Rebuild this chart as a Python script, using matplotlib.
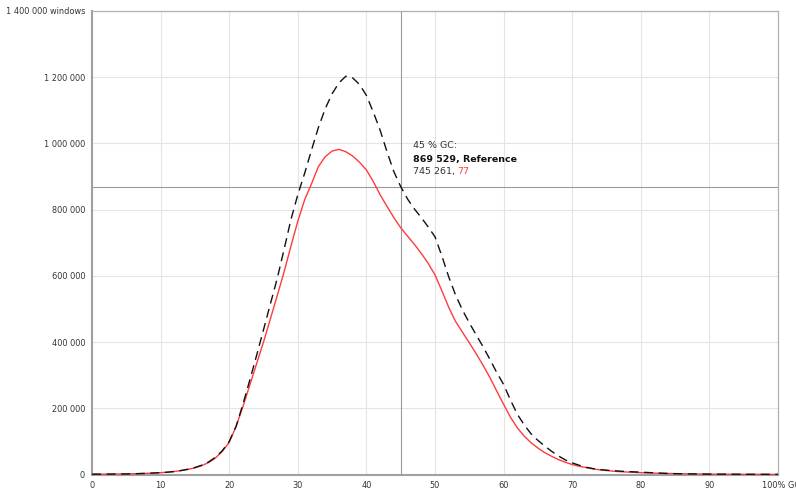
import matplotlib
matplotlib.use("Agg")
import matplotlib.pyplot as plt
from matplotlib.ticker import FuncFormatter, MultipleLocator

# GC content (percent) of the windows
gc_percent = list(range(0, 101))

# Number of windows per GC percent: reference genome
reference = [
    1000, 1000, 1200, 1300, 1500, 1800, 2200, 2800, 3500, 4500,
    5500, 7000, 9000, 12000, 16000, 21000, 28000, 38000, 52000, 72000,
    100000, 145000, 212000, 285000, 360000, 437000, 515000, 592000, 680000, 770000,
    845000, 910000, 980000, 1048000, 1105000, 1150000, 1183000, 1203000, 1198000, 1178000,
    1145000, 1095000, 1040000, 975000, 915000, 869529, 832000, 802000, 776000, 748000,
    718000, 660000, 597000, 542000, 497000, 458000, 422000, 386000, 348000, 308000,
    272000, 225000, 182000, 150000, 123000, 103000, 86000, 70000, 56000, 44000,
    35000, 28000, 22000, 18000, 15000, 13000, 11500, 10000, 9000, 8000,
    7000, 6000, 5000, 4000, 3000, 2500, 2200, 1900, 1600, 1400,
    1200, 1000, 900, 800, 700, 600, 500, 450, 400, 350,
    300,
]

# Number of windows per GC percent: sample 77
sample_77 = [
    1000, 1000, 1200, 1300, 1500, 1800, 2200, 2800, 3500, 4500,
    5500, 7000, 9000, 12000, 15500, 20000, 27000, 36000, 50000, 70000,
    97000, 145000, 205000, 270000, 335000, 400000, 470000, 540000, 612000, 690000,
    765000, 830000, 878000, 930000, 960000, 977000, 982000, 975000, 962000, 943000,
    920000, 885000, 845000, 810000, 776000, 745261, 720000, 695000, 668000, 638000,
    603000, 555000, 505000, 462000, 430000, 398000, 365000, 330000, 293000, 252000,
    212000, 173000, 141000, 116000, 96000, 80000, 66000, 55000, 45000, 37000,
    30000, 25000, 21000, 17000, 14000, 12000, 10000, 8500, 7500, 6500,
    5500, 4800, 4200, 3600, 3100, 2700, 2300, 2000, 1700, 1500,
    1300, 1100, 1000, 900, 800, 700, 600, 500, 450, 400,
    350,
]

x_unit_label = "100% GC"
y_unit_label = "windows"

cursor_gc = 45
cursor_ref = 869529
cursor_sample = 745261
sample_name = "77"
reference_name = "Reference"

text_color = "#333333"
red = "#ff3b3b"

plt.rcParams["font.family"] = ["DejaVu Sans"]

fig = plt.figure(figsize=(7.96, 4.90), dpi=100)
ax = fig.add_axes([92 / 796, 15.5 / 490, 686 / 796, 463.5 / 490])

ax.plot(gc_percent, sample_77, color=red, lw=1.0, zorder=3)
ax.plot(gc_percent, reference, color="#111111", lw=1.0, dashes=(6.5, 4), zorder=4)

ax.set_xlim(0, 100)
ax.set_ylim(0, 1400000)

ax.xaxis.set_major_locator(MultipleLocator(10))
ax.yaxis.set_major_locator(MultipleLocator(200000))


def fmt_y(v, pos):
    s = f"{int(round(v)):,}".replace(",", " ")
    if v >= 1400000:
        s += " " + y_unit_label
    return s


def fmt_x(v, pos):
    if round(v) >= 100:
        return ""
    return f"{int(round(v))}"


ax.yaxis.set_major_formatter(FuncFormatter(fmt_y))
ax.xaxis.set_major_formatter(FuncFormatter(fmt_x))
ax.tick_params(axis="both", length=0, labelsize=5.9, colors=text_color, pad=5)

# Last x label carries the unit and runs past the right edge of the plot
ax.annotate(x_unit_label, xy=(100, 0), xycoords="data", xytext=(-11.5, -5),
            textcoords="offset points", ha="left", va="top",
            fontsize=5.9, color=text_color, annotation_clip=False)

ax.grid(True, color="#e4e4e4", lw=0.8, zorder=0)
ax.set_axisbelow(True)

for side in ("left", "bottom"):
    ax.spines[side].set_color("#a0a0a0")
    ax.spines[side].set_linewidth(1.5)
for side in ("top", "right"):
    ax.spines[side].set_color("#b0b0b0")
    ax.spines[side].set_linewidth(0.9)

# Cursor crosshair and readout
ax.axvline(cursor_gc, color="#9a9a9a", lw=0.8, zorder=2)
ax.axhline(cursor_ref, color="#9a9a9a", lw=0.8, zorder=2)

fs = 6.8
ax.annotate(f"{cursor_gc} % GC:", xy=(cursor_gc, cursor_ref), xytext=(8.6, 29.3),
            textcoords="offset points", ha="left", va="center", fontsize=fs,
            color=text_color, zorder=6)
ax.annotate(f"{cursor_ref:,}".replace(",", " ") + f", {reference_name}",
            xy=(cursor_gc, cursor_ref), xytext=(8.6, 19.8), textcoords="offset points",
            ha="left", va="center", fontsize=fs, fontweight="bold", color="#111111",
            zorder=6)
t3 = ax.annotate(f"{cursor_sample:,}".replace(",", " ") + ", ",
                 xy=(cursor_gc, cursor_ref), xytext=(8.6, 10.6), textcoords="offset points",
                 ha="left", va="center", fontsize=fs, color=text_color, zorder=6)
ax.annotate(sample_name, xy=(1, 0), xycoords=t3, ha="left", va="bottom",
            fontsize=fs, color=red, zorder=6)

fig.savefig("out.png", dpi=100)
